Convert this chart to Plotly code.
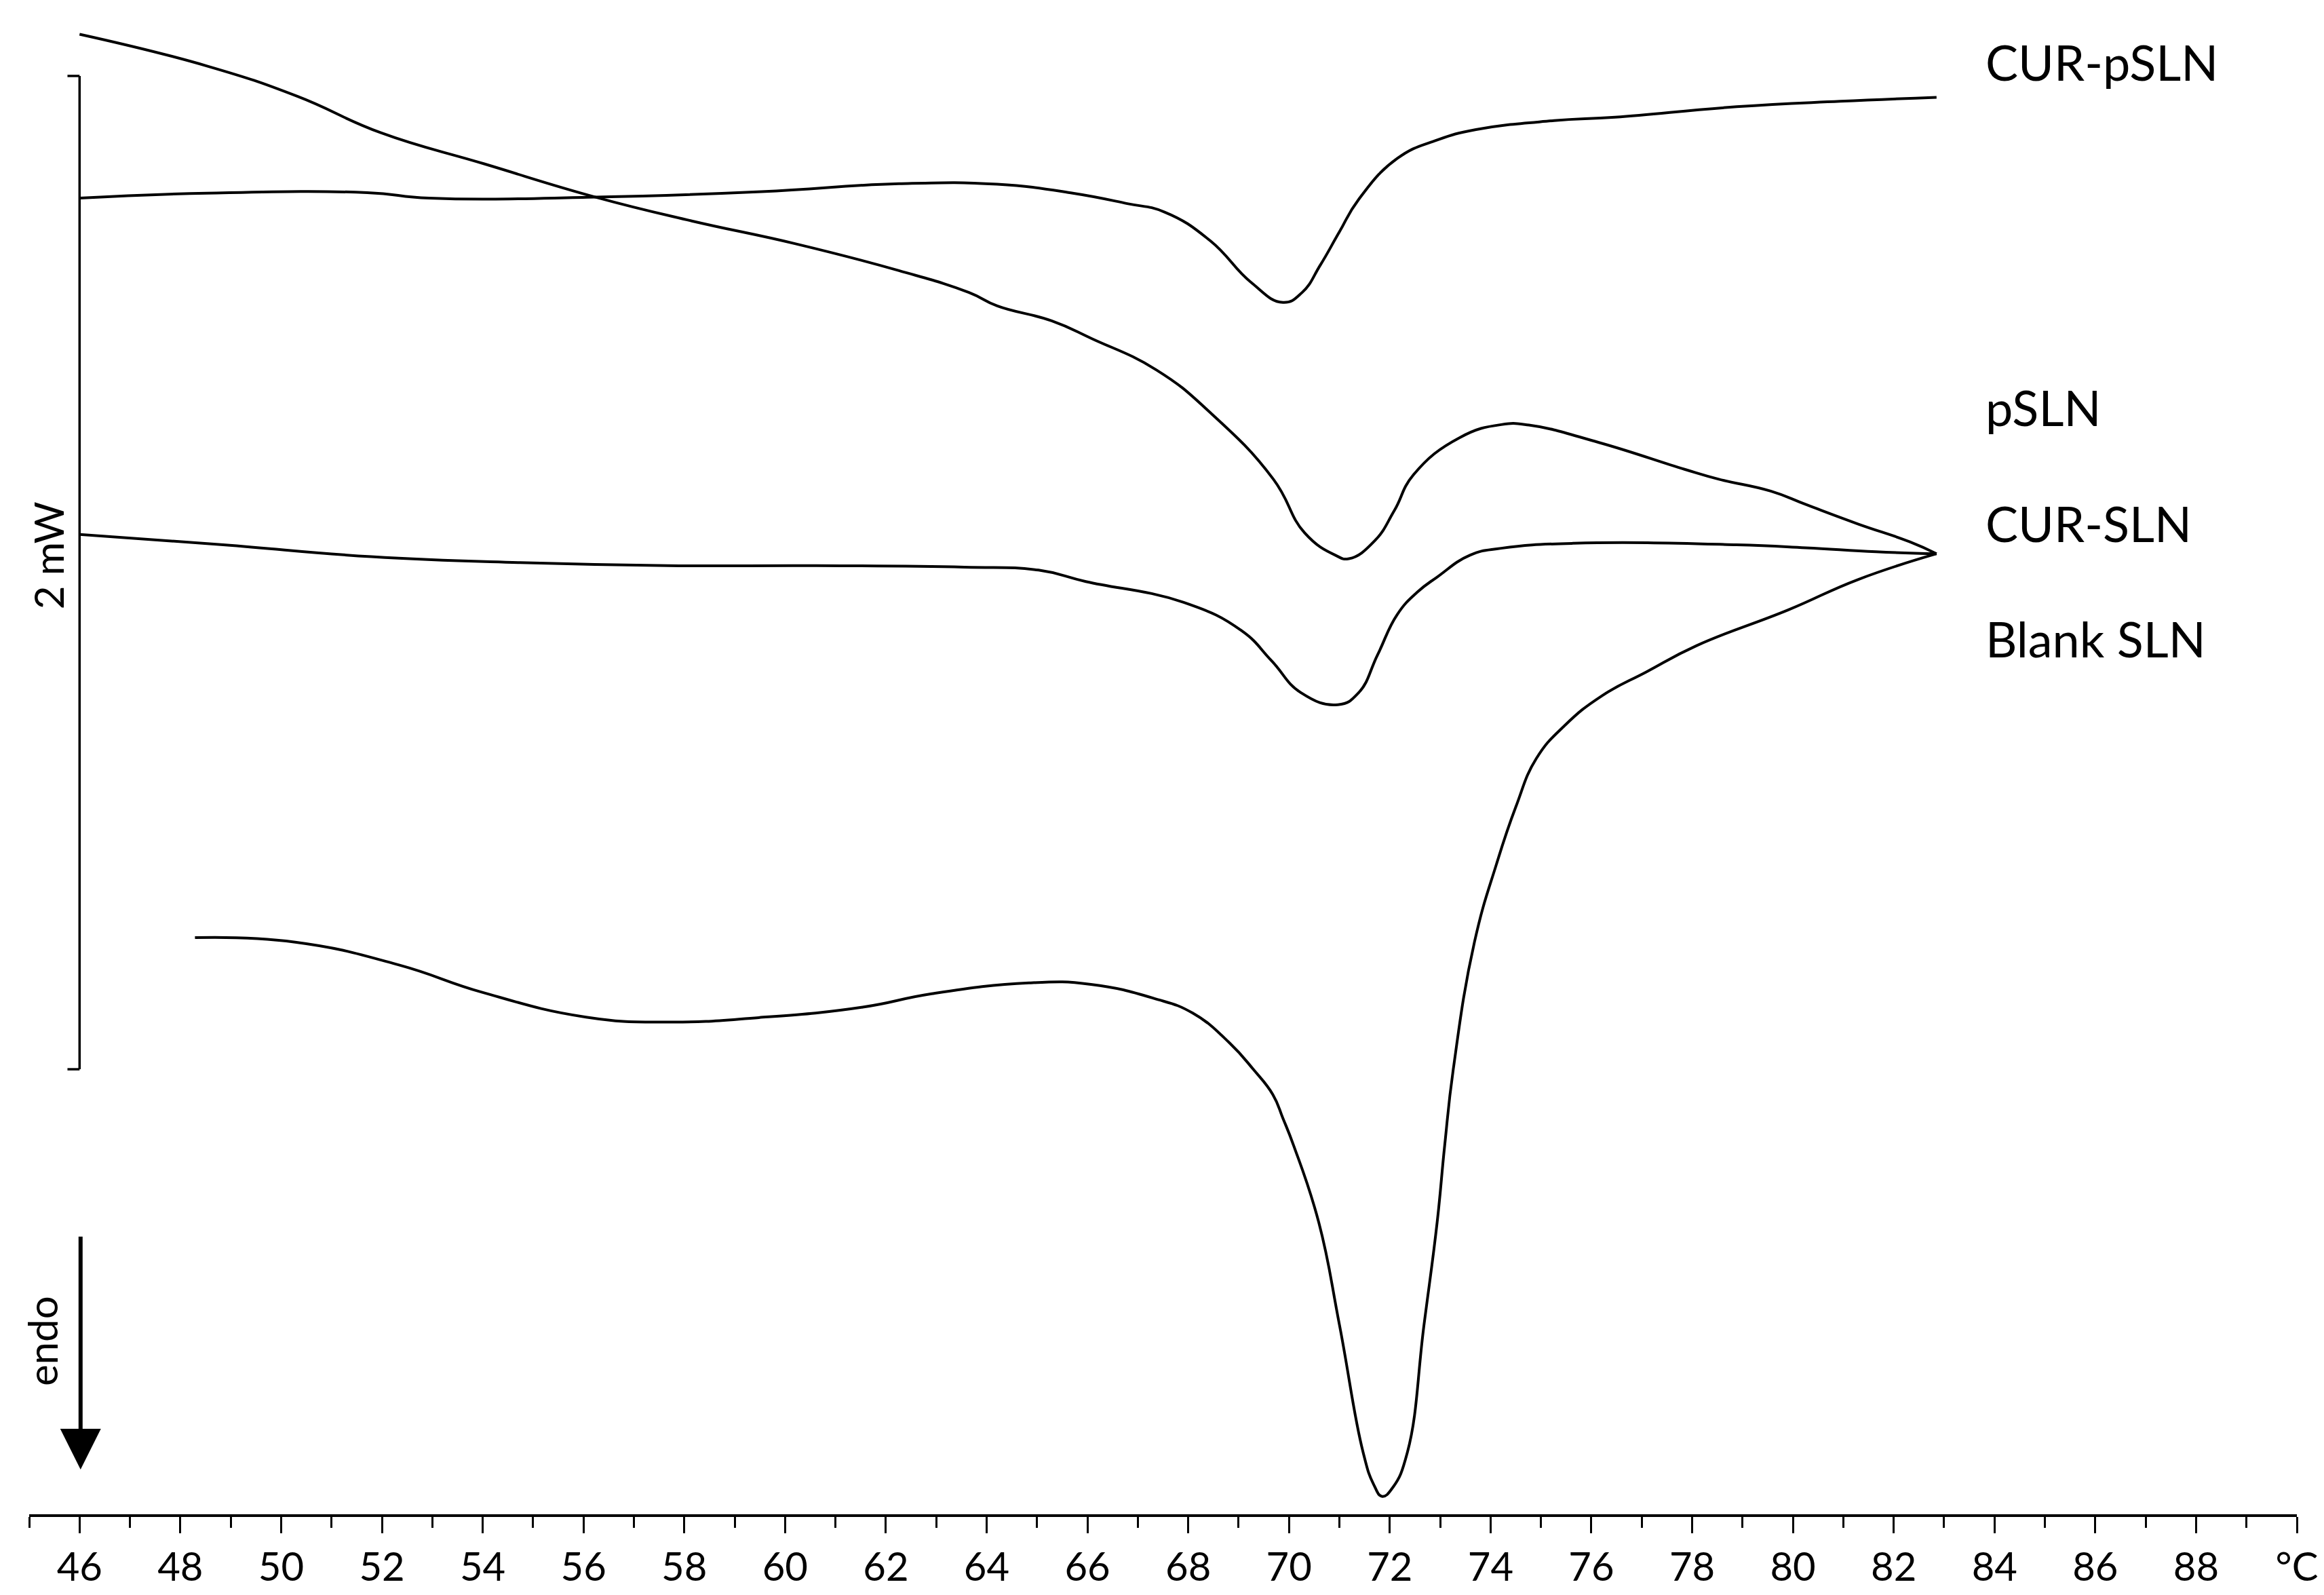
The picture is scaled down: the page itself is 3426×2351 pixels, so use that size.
import plotly.graph_objects as go

# DSC thermograms (heat flow in mW, offset curves), temperature in degC
t_cur_psln = [46.00, 48.53, 51.71, 52.94, 56.24, 59.53, 62.26, 64.21, 65.71, 66.79, 67.53, 68.44,
              69.24, 69.88, 70.26, 70.62, 71.00, 71.38, 72.15, 72.94, 73.71, 75.26, 76.47, 78.88,
              80.94, 82.85]
hf_cur_psln = [2.650, 2.660, 2.661, 2.650, 2.652, 2.663, 2.679, 2.678, 2.660, 2.639, 2.622, 2.564,
               2.481, 2.440, 2.460, 2.515, 2.582, 2.647, 2.730, 2.767, 2.788, 2.806, 2.813, 2.834,
               2.845, 2.853]

t_psln = [46.00, 48.53, 50.32, 51.97, 54.03, 56.24, 58.15, 60.21, 62.26, 63.65, 64.21, 65.29,
          66.09, 67.37, 68.45, 69.69, 70.31, 70.92, 71.19, 71.70, 72.09, 72.47, 73.39, 74.21,
          74.76, 76.15, 77.85, 78.53, 79.56, 80.26, 81.29, 82.32, 82.85]
hf_psln = [2.980, 2.916, 2.855, 2.782, 2.719, 2.652, 2.604, 2.558, 2.504, 2.460, 2.433, 2.403,
           2.367, 2.304, 2.217, 2.084, 1.976, 1.931, 1.924, 1.960, 2.021, 2.093, 2.168, 2.194,
           2.193, 2.158, 2.104, 2.084, 2.060, 2.033, 1.994, 1.958, 1.934]

t_cur_sln = [46.00, 48.85, 51.79, 54.74, 57.68, 60.62, 63.56, 65.03, 65.97, 67.91, 69.06, 69.65,
             70.24, 70.97, 71.38, 71.76, 72.15, 72.55, 72.94, 73.59, 74.21, 75.65, 78.88, 80.26,
             81.65, 82.85]
hf_cur_sln = [1.973, 1.952, 1.928, 1.916, 1.910, 1.910, 1.907, 1.901, 1.878, 1.836, 1.779, 1.719,
              1.654, 1.630, 1.654, 1.731, 1.812, 1.857, 1.887, 1.931, 1.945, 1.955, 1.952, 1.946,
              1.938, 1.934]

t_blank = [48.29, 50.28, 52.34, 53.99, 56.05, 57.69, 59.48, 61.54, 62.91, 64.84, 66.07, 67.31,
           68.09, 68.82, 69.29, 69.68, 69.88, 70.09, 70.59, 71.00, 71.47, 71.68, 71.85, 72.06,
           72.35, 72.68, 72.94, 73.09, 73.26, 73.68, 74.12, 74.50, 74.91, 75.47, 76.21, 77.09,
           78.09, 79.91, 81.29, 82.85]
hf_blank = [1.161, 1.152, 1.106, 1.051, 1.001, 0.991, 1.000, 1.021, 1.048, 1.070, 1.067, 1.039,
            1.009, 0.949, 0.896, 0.845, 0.797, 0.743, 0.588, 0.382, 0.125, 0.060, 0.036, 0.054,
            0.125, 0.382, 0.588, 0.743, 0.896, 1.152, 1.310, 1.424, 1.522, 1.588, 1.648, 1.696,
            1.749, 1.821, 1.882, 1.934]

labels = ['CUR-pSLN', 'pSLN', 'CUR-SLN', 'Blank SLN']
label_y = [2.925, 2.230, 1.996, 1.764]

tick_vals = list(range(46, 91, 2))
tick_text = [str(v) for v in range(46, 89, 2)] + ['°C']
minor_vals = list(range(45, 90, 2))

FONT = 'Lato'

fig = go.Figure()
for t, hf in [(t_cur_psln, hf_cur_psln), (t_psln, hf_psln), (t_cur_sln, hf_cur_sln), (t_blank, hf_blank)]:
    fig.add_trace(go.Scatter(x=t, y=hf, mode='lines',
                             line=dict(color='black', width=4, shape='spline', smoothing=1.3)))

# curve labels
for name, y in zip(labels, label_y):
    fig.add_annotation(x=83.8, y=y, text=name, showarrow=False, xanchor='left', yanchor='middle',
                       font=dict(family=FONT, size=72, color='black'))

# 2 mW scale bar
fig.add_shape(type='line', x0=46, x1=46, y0=0.896, y1=2.896, line=dict(color='black', width=3.5))
fig.add_shape(type='line', x0=45.76, x1=46, y0=2.896, y1=2.896, line=dict(color='black', width=3.5))
fig.add_shape(type='line', x0=45.76, x1=46, y0=0.896, y1=0.896, line=dict(color='black', width=3.5))
fig.add_annotation(x=45.38, y=1.93, text='2 mW', showarrow=False, textangle=-90,
                   font=dict(family=FONT, size=60, color='black'))

# endo arrow
fig.add_annotation(x=46.02, y=0.09, ax=46.02, ay=0.561, axref='x', ayref='y', text='',
                   showarrow=True, arrowhead=2, arrowsize=2, arrowwidth=6, arrowcolor='black')
fig.add_annotation(x=45.25, y=0.349, text='endo', showarrow=False, textangle=-90,
                   font=dict(family=FONT, size=60, color='black'))

fig.update_layout(width=3426, height=2351, margin=dict(l=35, r=48, t=0, b=127),
                  plot_bgcolor='white', paper_bgcolor='white', showlegend=False)
fig.update_xaxes(range=[45, 90], showline=True, linecolor='black', linewidth=4,
                 ticks='outside', ticklen=24, tickwidth=2.5, tickcolor='black',
                 tickvals=tick_vals, ticktext=tick_text,
                 tickfont=dict(family=FONT, size=58, color='black'),
                 showgrid=False, zeroline=False,
                 minor=dict(tickmode='array', tickvals=minor_vals, ticks='outside', ticklen=16,
                            tickwidth=2.5, tickcolor='black', showgrid=False))
fig.update_yaxes(range=[0, 3.038], visible=False, showgrid=False, zeroline=False)

fig.write_html("out.html")
